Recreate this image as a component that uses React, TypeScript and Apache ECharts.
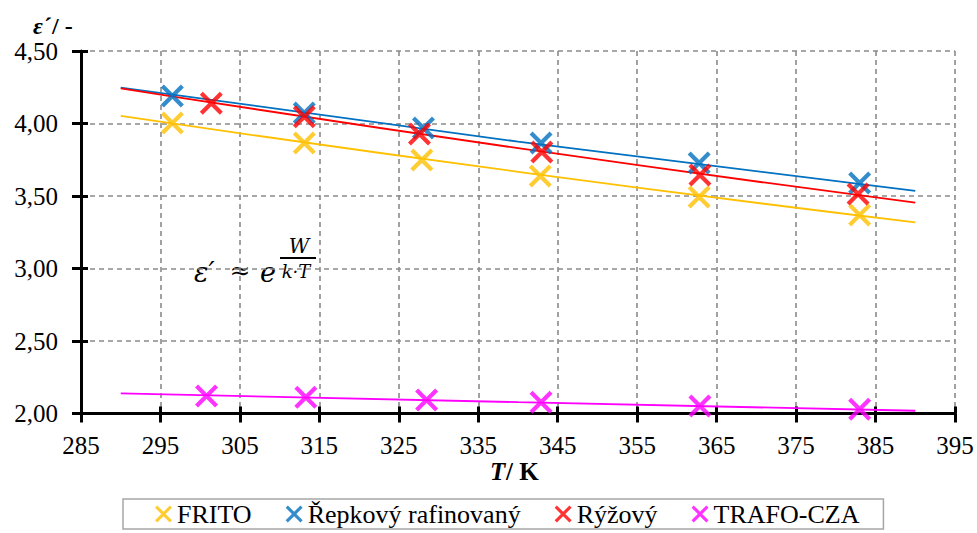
import React, { useEffect, useRef } from "react";
import * as echarts from "echarts";

// Measured temperatures T (K) and permittivity values
const tFrito = [296.5, 313.1, 327.9, 342.8, 362.8, 383.0];
const eFrito = [4.003, 3.866, 3.748, 3.638, 3.493, 3.369];

const tRepka = [296.5, 313.1, 328.1, 342.9, 362.8, 383.0];
const eRepka = [4.19, 4.072, 3.969, 3.866, 3.728, 3.59];

const tRyze = [301.4, 313.1, 327.6, 343.0, 362.9, 382.8];
const eRyze = [4.139, 4.047, 3.928, 3.803, 3.645, 3.514];

const tTrafo = [300.8, 313.3, 328.5, 342.9, 362.9, 383.0];
const eTrafo = [2.121, 2.112, 2.093, 2.077, 2.052, 2.029];

// Trend lines (exponential fit) read at T = 290, 340, 390
const trendT = [290, 340, 390];
const trendFrito = [4.052, 3.667, 3.318];
const trendRepka = [4.248, 3.875, 3.536];
const trendRyze = [4.243, 3.83, 3.455];
const trendTrafo = [2.139, 2.078, 2.019];

const seriesNames = ["FRITO", "Řepkový rafinovaný", "Rýžový", "TRAFO-CZA"];
const colors = ["#FFC000", "#0070C0", "#FF0000", "#FF00FF"];

const xTicks = { min: 285, max: 395, interval: 10 };
const yTicks = { min: 2, max: 4.5, interval: 0.5 };

const X_SYMBOL =
  "path://M0,13 L13,0 L50,37 L87,0 L100,13 L63,50 L100,87 L87,100 L50,63 L13,100 L0,87 L37,50 Z";

const zip = (a: number[], b: number[]) => a.map((v, i) => [v, b[i]]);

export default function App() {
  const ref = useRef<HTMLDivElement>(null);

  useEffect(() => {
    document.body.style.margin = "0";
    if (!ref.current) return;
    const chart = echarts.init(ref.current, null, { renderer: "svg" });
    const serif = "Times New Roman";
    const boldFont = "Liberation Serif";
    const mathFont = "DejaVu Serif";

    const pts = [
      zip(tFrito, eFrito),
      zip(tRepka, eRepka),
      zip(tRyze, eRyze),
      zip(tTrafo, eTrafo),
    ];
    const trends = [trendFrito, trendRepka, trendRyze, trendTrafo].map((t) =>
      zip(trendT, t)
    );

    const baseX = {
      type: "value",
      min: xTicks.min,
      max: xTicks.max,
      interval: xTicks.interval,
      position: "bottom",
    };
    const baseY = {
      type: "value",
      min: yTicks.min,
      max: yTicks.max,
      interval: yTicks.interval,
      position: "left",
    };

    const txt = (x: number, y: number, text: string, extra: any) => ({
      type: "text",
      x,
      y,
      style: { text, fill: "#000", verticalAlign: "middle", ...extra },
    });

    chart.setOption({
      animation: false,
      textStyle: { fontFamily: serif },
      grid: { left: 81, right: 22, top: 51, bottom: 119.5 },
      xAxis: [
        {
          ...baseX,
          axisLine: { show: true, onZero: false, lineStyle: { color: "#000", width: 3 } },
          axisTick: { show: true, inside: false, length: 9, lineStyle: { color: "#000", width: 3 } },
          axisLabel: {
            color: "#000",
            fontFamily: serif,
            fontSize: 25,
            margin: 19,
          },
          splitLine: {
            show: true,
            lineStyle: { color: "#8a8a8a", type: [5, 4], width: 1.6 },
          },
        },
        {
          ...baseX,
          axisLine: { show: false, onZero: false },
          axisTick: { show: true, inside: true, length: 7, lineStyle: { color: "#000", width: 3 } },
          axisLabel: { show: false },
          splitLine: { show: false },
        },
      ],
      yAxis: [
        {
          ...baseY,
          axisLine: { show: true, onZero: false, lineStyle: { color: "#000", width: 3 } },
          axisTick: { show: true, inside: false, length: 9, lineStyle: { color: "#000", width: 3 } },
          axisLabel: {
            color: "#000",
            fontFamily: serif,
            fontSize: 25,
            margin: 23,
            formatter: (v: number) => v.toFixed(2).replace(".", ","),
          },
          splitLine: {
            show: true,
            lineStyle: { color: "#8a8a8a", type: [5, 4], width: 1.6 },
          },
        },
        {
          ...baseY,
          axisLine: { show: false, onZero: false },
          axisTick: { show: true, inside: true, length: 7, lineStyle: { color: "#000", width: 3 } },
          axisLabel: { show: false },
          splitLine: { show: false },
        },
      ],
      legend: {
        data: seriesNames.map((n, i) => ({ name: n, icon: X_SYMBOL, itemStyle: { color: colors[i] } })),
        left: 123,
        top: 499,
        orient: "horizontal",
        selectedMode: false,
        itemWidth: 17,
        itemHeight: 17,
        itemGap: 34,
        padding: [2, 24, 2, 32],
        borderColor: "#a6a6a6",
        borderWidth: 1.5,
        textStyle: { fontFamily: serif, fontSize: 26, color: "#000" },
      },
      graphic: [
        txt(33, 26, "ε", { fontFamily: boldFont, fontSize: 24, fontWeight: "bold", fontStyle: "italic" }),
        txt(44, 26, "´/ -", { fontFamily: boldFont, fontSize: 24, fontWeight: "bold" }),
        txt(490, 471, "T", { fontFamily: boldFont, fontSize: 25, fontWeight: "bold", fontStyle: "italic" }),
        txt(506, 471, "/ K", { fontFamily: boldFont, fontSize: 25, fontWeight: "bold" }),
        txt(194, 272, "ε′", { fontFamily: mathFont, fontStyle: "italic", fontSize: 27 }),
        txt(240, 270, "≈", { fontFamily: mathFont, fontSize: 25, align: "center" }),
        txt(260, 272, "e", { fontFamily: mathFont, fontStyle: "italic", fontSize: 27 }),
        txt(299, 246, "W", { fontFamily: mathFont, fontStyle: "italic", fontSize: 20, align: "center" }),
        {
          type: "line",
          shape: { x1: 280, y1: 258, x2: 316, y2: 258 },
          style: { stroke: "#000", lineWidth: 2 },
        },
        txt(296, 271, "k·T", { fontFamily: mathFont, fontStyle: "italic", fontSize: 18, align: "center" }),
      ],
      series: [
        ...trends.map((d, i) => ({
          type: "line",
          name: "trend" + i,
          data: d,
          smooth: true,
          showSymbol: false,
          symbol: "none",
          lineStyle: { color: colors[i], width: 1.8 },
          z: 2,
          silent: true,
        })),
        ...pts.map((d, i) => ({
          type: "scatter",
          name: seriesNames[i],
          data: d,
          symbol: X_SYMBOL,
          symbolSize: 23,
          itemStyle: { color: colors[i] },
          z: 3,
        })),
      ],
    });

    return () => chart.dispose();
  }, []);

  return <div ref={ref} style={{ width: 977, height: 533 }} />;
}
